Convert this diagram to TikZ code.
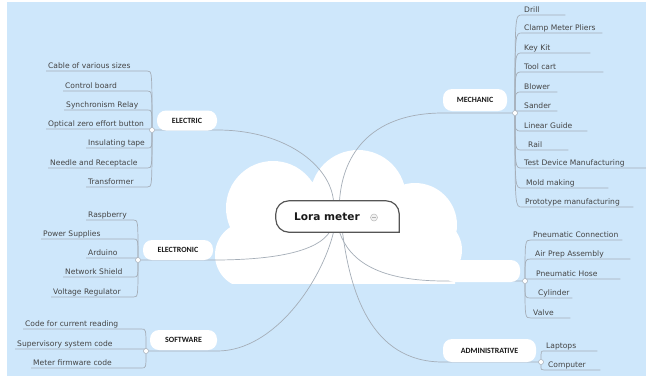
\documentclass[tikz,border=0pt]{standalone}
\usepackage{fontspec}
\newfontfamily\leaffont{DejaVu Sans}
\newfontfamily\catfont{Carlito}
\usetikzlibrary{calc}
\pgfdeclarelayer{back}
\pgfdeclarelayer{mid}
\pgfsetlayers{back,mid,main}
\definecolor{sky}{RGB}{206,231,251}
\definecolor{linec}{RGB}{165,174,184}
\definecolor{leafc}{RGB}{68,68,68}
\definecolor{catc}{RGB}{25,25,25}
\definecolor{bordc}{RGB}{85,85,85}
\newcommand\lfbox[2]{\makebox[#1bp][l]{#2}}
\begin{document}
\begin{tikzpicture}[x=1bp,y=-1bp,
  leaf/.style={inner xsep=2bp, inner ysep=1.5bp, text height=5.6bp, text depth=0.4bp,
    font=\leaffont\fontsize{7.6}{9}\selectfont, text=leafc, anchor=south west},
  pill/.style={fill=white, rounded corners=9bp, inner sep=0pt,
    font=\catfont\bfseries\fontsize{8}{9}\selectfont, text=catc},
  dotn/.style={circle, fill=white, draw=linec, line width=0.5bp, inner sep=0pt, minimum size=5bp},
  conn/.style={draw=linec, line width=0.7bp},
  centre/.style={fill=white, rounded corners=13bp, inner sep=0pt, minimum width=123bp, minimum height=31bp,
    font=\leaffont\bfseries\fontsize{10.6}{12}\selectfont, text=catc}]
\useasboundingbox (0,0) rectangle (646,376);

\begin{pgfonlayer}{back}
\fill[white] (0,0) rectangle (646,376);
\fill[sky] (7,2) rectangle (646,376);
\begin{scope}
\clip (0,0) rectangle (646,283.5);
\fill[white] (273,208) circle[radius=47bp] (248,255) circle[radius=33bp]
  (358,198) circle[radius=48bp] (415,225) circle[radius=42bp]
  (430,250) circle[radius=32bp] (240,215) rectangle (455,290);
\end{scope}
\end{pgfonlayer}

% central topic
\node[centre] (c) at (337.5,216.5) {Lora meter\rule{21bp}{0pt}};
\draw[bordc, line width=1.2bp, rounded corners=13bp, line cap=rect]
  (c.south east) -- (c.north east) -- (c.north west) -- (c.south west) -- (c.south east);
\node[circle, draw=gray!55, fill=gray!10, line width=0.5bp, inner sep=0pt, minimum size=7bp] (ic) at (374,217.5) {};
\draw[gray!60, line width=0.6bp] ([xshift=-1.8bp]ic.center) -- ([xshift=1.8bp]ic.center);

% branch pills
\node[pill, minimum width=60bp, minimum height=20bp] (elec) at (187,120.5) {ELECTRIC};
\node[pill, minimum width=64bp, minimum height=22bp] (mech) at (475,100) {MECHANIC};
\node[pill, minimum width=70bp, minimum height=20bp] (elecn) at (178,250) {ELECTRONIC};
\node[pill, minimum width=67bp, minimum height=20bp] (soft) at (183.5,340) {SOFTWARE};
\node[pill, minimum width=75bp, minimum height=22bp] (pneu) at (482.5,271) {};
\node[pill, minimum width=93bp, minimum height=23bp] (adm) at (489.5,350.5) {ADMINISTRATIVE};

% junction dots
\node[dotn] (ed) at (152,130) {};
\node[dotn] (md) at (515,113) {};
\node[dotn] (nd) at (138,260) {};
\node[dotn] (sd) at (146,351) {};
\node[dotn] (pd) at (525,281) {};
\node[dotn] (ad) at (541,362) {};

% ELECTRIC leaves
\node[leaf] (e1) at (46,71) {\lfbox{97}{Cable of various sizes}};
\node[leaf] (e2) at (63,91) {\lfbox{80}{Control board}};
\node[leaf] (e3) at (64,110) {\lfbox{79}{Synchronism Relay}};
\node[leaf] (e4) at (46,129) {\lfbox{97}{Optical zero effort button}};
\node[leaf] (e5) at (86,148) {\lfbox{57}{Insulating tape}};
\node[leaf] (e6) at (48,168) {\lfbox{95}{Needle and Receptacle}};
\node[leaf] (e7) at (86,187) {\lfbox{57}{Transformer}};

% MECHANIC leaves
\node[leaf] (m1) at (522,15) {\lfbox{39}{Drill}};
\node[leaf] (m2) at (522,33) {\lfbox{76}{Clamp Meter Pliers}};
\node[leaf] (m3) at (522,53) {\lfbox{64}{Key Kit}};
\node[leaf] (m4) at (522,72) {\lfbox{77}{Tool cart}};
\node[leaf] (m5) at (522,92) {\lfbox{31}{Blower}};
\node[leaf] (m6) at (522,111) {\lfbox{31}{Sander}};
\node[leaf] (m7) at (522,131) {\lfbox{61}{Linear Guide}};
\node[leaf] (m8) at (522,150) {\lfbox{42}{\hspace{4bp}Rail}};
\node[leaf] (m9) at (522,168) {\lfbox{120}{Test Device Manufacturing}};
\node[leaf] (m10) at (522,188) {\lfbox{82}{\hspace{2bp}Mold making}};
\node[leaf] (m11) at (522,207) {\lfbox{107}{\hspace{1bp}Prototype manufacturing}};

% ELECTRONIC leaves
\node[leaf] (n1) at (86,220) {\lfbox{43}{Raspberry}};
\node[leaf] (n2) at (41,239) {\lfbox{88}{Power Supplies}};
\node[leaf] (n3) at (86,258) {\lfbox{43}{Arduino}};
\node[leaf] (n4) at (63,277) {\lfbox{66}{Network Shield}};
\node[leaf] (n5) at (51,297) {\lfbox{78}{Voltage Regulator}};

% SOFTWARE leaves
\node[leaf] (s1) at (23,329) {\lfbox{114}{Code for current reading}};
\node[leaf] (s2) at (15,349) {\lfbox{122}{Supervisory system code}};
\node[leaf] (s3) at (31,368) {\lfbox{106}{Meter firmware code}};

% pneumatic leaves
\node[leaf] (p1) at (531,240) {\lfbox{87}{Pneumatic Connection}};
\node[leaf] (p2) at (531,259) {\lfbox{95}{\hspace{2bp}Air Prep Assembly}};
\node[leaf] (p3) at (531,279) {\lfbox{85}{\hspace{3bp}Pneumatic Hose}};
\node[leaf] (p4) at (531,298) {\lfbox{37}{\hspace{5bp}Cylinder}};
\node[leaf] (p5) at (531,318) {\lfbox{35}{Valve}};

% ADMINISTRATIVE leaves
\node[leaf] (a1) at (544,351) {\lfbox{49}{Laptops}};
\node[leaf] (a2) at (544,370) {\lfbox{52}{\hspace{2bp}Computer}};

\begin{pgfonlayer}{mid}
% centre to branches
\draw[conn] (ed) -- (elec.south east |- ed) .. controls (285,130) and (330,165) .. ([xshift=-4bp]c.north);
\draw[conn] ([xshift=2bp]c.north) .. controls (343,150) and (375,113) .. (mech.south west |- md) -- (md);
\draw[conn] ([xshift=-8bp]c.south) .. controls (318,250) and (280,260) .. (elecn.south east |- nd) -- (nd);
\draw[conn] ([xshift=-4bp]c.south) .. controls (322,280) and (275,351) .. (soft.south east |- sd) -- (sd);
\draw[conn] ([xshift=2bp]c.south) .. controls (350,262) and (380,281) .. (pneu.south west |- pd) -- (pd);
\draw[conn] ([xshift=5bp]c.south) .. controls (350,290) and (370,362) .. (adm.south west |- ad) -- (ad);
% left leaves
\foreach \d/\l in {ed/e1,ed/e2,ed/e3,ed/e4,ed/e5,ed/e6,ed/e7,nd/n1,nd/n2,nd/n3,nd/n4,nd/n5,sd/s1,sd/s2,sd/s3}
  \draw[conn] (\d) .. controls (\d |- \l.south east) .. (\l.south east) -- (\l.south west);
% right leaves
\foreach \d/\l in {md/m1,md/m2,md/m3,md/m4,md/m5,md/m6,md/m7,md/m8,md/m9,md/m10,md/m11,pd/p1,pd/p2,pd/p3,pd/p4,pd/p5,ad/a1,ad/a2}
  \draw[conn] (\d) .. controls (\d |- \l.south west) .. (\l.south west) -- (\l.south east);
\end{pgfonlayer}
\end{tikzpicture}
\end{document}
